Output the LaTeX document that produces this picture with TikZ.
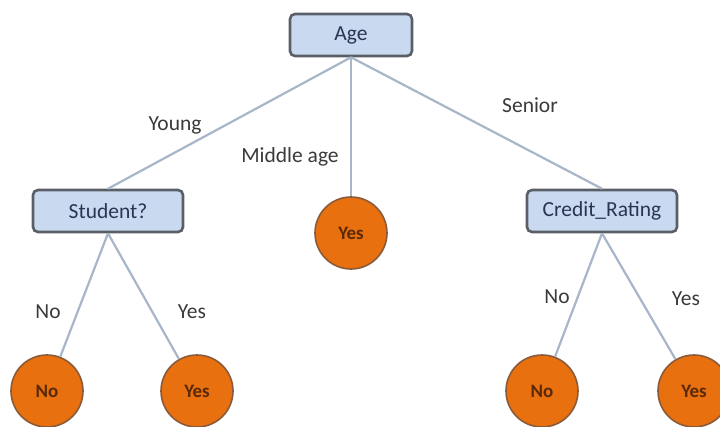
\documentclass[tikz,border=0pt]{standalone}
\usepackage{fontspec}
\setmainfont{Carlito}
\definecolor{boxfill}{HTML}{C9DAF0}
\definecolor{boxline}{HTML}{5A5E66}
\definecolor{boxtext}{HTML}{2A3550}
\definecolor{leaffill}{HTML}{E8700F}
\definecolor{leafline}{HTML}{8A5A3A}
\definecolor{leaftext}{HTML}{5A2A08}
\definecolor{edgecol}{HTML}{A8B6CA}
\definecolor{labcol}{HTML}{3A3A3A}
\begin{document}
\begin{tikzpicture}[x=1pt,y=-1pt,
  decbox/.style={draw=boxline,line width=2.6pt,fill=boxfill,rounded corners=5pt,
    minimum width=#1,minimum height=42pt,inner sep=0pt,text=boxtext,
    font=\fontsize{21.5}{24}\selectfont},
  leaf/.style={circle,draw=leafline,line width=1.6pt,fill=leaffill,minimum size=72pt,
    inner sep=0pt,text=leaftext,font=\fontsize{19}{22}\selectfont\bfseries},
  edge/.style={draw=edgecol,line width=2.2pt},
  lab/.style={text=labcol,font=\fontsize{21.5}{24}\selectfont,inner sep=0pt}]
\useasboundingbox (0,0) rectangle (720,426);
\fill[white] (0,0) rectangle (720,426);
\node[decbox=122pt] (age) at (351,35) {Age};
\node[decbox=150pt] (stu) at (108,211) {Student?};
\node[decbox=150pt] (cr) at (602,211) {Credit\_Rating};
\node[leaf] (mid) at (351,233) {Yes};
\node[leaf] (l1) at (47,391) {No};
\node[leaf] (l2) at (197,391) {Yes};
\node[leaf] (l3) at (542,391) {No};
\node[leaf] (l4) at (694,391) {Yes};
\draw[edge] (age.south) -- (stu.north);
\draw[edge] (age.south) -- (mid.north);
\draw[edge] (age.south) -- (cr.north);
\draw[edge] (stu.south) -- (l1);
\draw[edge] (stu.south) -- (l2);
\draw[edge] (cr.south) -- (l3);
\draw[edge] (cr.south) -- (l4);
\node[lab] (ly) at (175,125) {Young};
\node[lab] (lm) at (290,157) {Middle age};
\node[lab] (ls) at (530,105) {Senior};
\node[lab] (ln1) at (48,312) {No};
\node[lab] (lyes1) at (192,312) {Yes};
\node[lab] (ln2) at (557,297) {No};
\node[lab] (lyes2) at (686,299) {Yes};
\end{tikzpicture}
\end{document}
